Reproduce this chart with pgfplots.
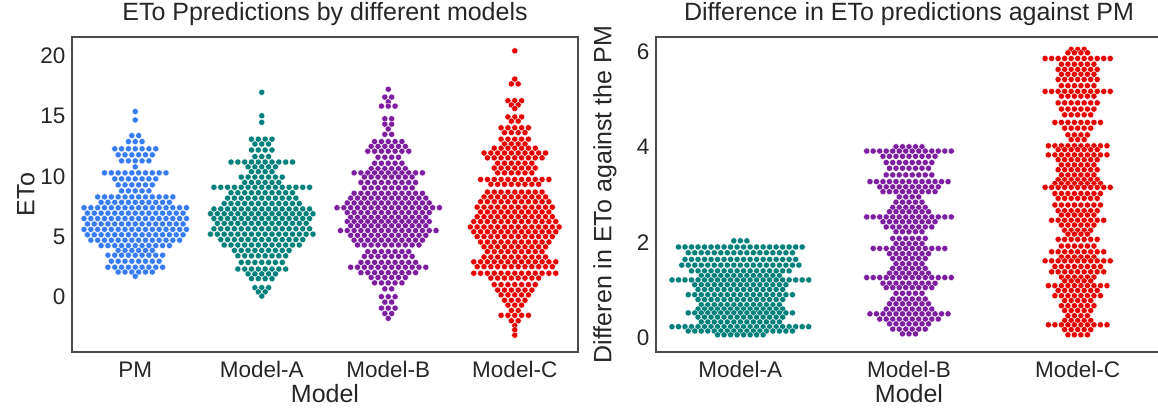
\documentclass[border=0pt]{standalone}
\usepackage{pgfplots}
\pgfplotsset{compat=1.18}
\usepackage{fontspec}
\setmainfont{Liberation Sans}

\definecolor{pmc}{RGB}{56,124,245}
\definecolor{tealc}{RGB}{0,128,122}
\definecolor{purc}{RGB}{125,30,160}
\definecolor{redc}{RGB}{230,0,0}
\definecolor{txt}{RGB}{38,38,38}

\pgfplotsset{
  panel/.style={
    scale only axis, width=506pt, height=315pt, anchor=south west,
    axis line style={draw=black!70, line width=1.1pt},
    major tick length=0pt, tick style={draw=none},
    ticklabel style={font=\fontsize{22.5}{26}\selectfont, text=txt},
    yticklabel style={xshift=-3pt},
    xticklabel style={anchor=base, yshift=-26pt},
    label style={font=\fontsize{25}{29}\selectfont, text=txt},
    xlabel style={at={(0.5,0)}, anchor=base, yshift=-51pt},
    title style={font=\fontsize{25}{29}\selectfont, text=txt, at={(0.5,1)}, anchor=base, yshift=10pt},
    /pgf/number format/assume math mode=true,
  },
  swarm/.style={only marks, mark=*, mark size=3.1pt, color=#1,
    mark options={draw=white, line width=0.35pt, fill=#1}},
}

\begin{document}
\begin{tikzpicture}

% ---------- left: ETo by model (x offsets in half-slot units) ----------
\begin{axis}[panel, at={(72pt,57pt)},
  xmin=-0.5, xmax=3.5, ymin=-4.6, ymax=21.6,
  xtick={0,1,2,3}, xticklabels={PM,Model-A,Model-B,Model-C},
  ytick={0,5,10,15,20},
  xlabel={Model}, ylabel={ETo},
  ylabel style={at={(0,0.5)}, anchor=center, yshift=46pt},
  title={ETo Ppredictions by different models}]

% PM
\addplot[swarm=pmc, x filter/.expression={0.027*x}] coordinates {
(0,15.4)(0,14.7)
(-1,13.4)(1,13.4)
(-2,12.9)(0,12.9)(2,12.9)
(-6,12.3)(-4,12.3)(-2,12.3)(0,12.3)(2,12.3)(4,12.3)(6,12.3)
(-5,11.8)(-3,11.8)(-1,11.8)(1,11.8)(3,11.8)(5,11.8)
(-4,11.3)(-2,11.3)(0,11.3)(2,11.3)(4,11.3)
(0,10.8)
(-9,10.3)(-7,10.3)(-5,10.3)(-3,10.3)(-1,10.3)(1,10.3)(3,10.3)(5,10.3)(7,10.3)(9,10.3)
(-6,9.8)(-4,9.8)(-2,9.8)(0,9.8)(2,9.8)(4,9.8)(6,9.8)
(-5,9.3)(-3,9.3)(-1,9.3)(1,9.3)(3,9.3)(5,9.3)
(-4,8.8)(-2,8.8)(0,8.8)(2,8.8)(4,8.8)
(-11,8.3)(-9,8.3)(-7,8.3)(-5,8.3)(-3,8.3)(-1,8.3)(1,8.3)(3,8.3)(5,8.3)(7,8.3)(9,8.3)(11,8.3)
(-10,7.85)(-8,7.85)(-6,7.85)(-4,7.85)(-2,7.85)(0,7.85)(2,7.85)(4,7.85)(6,7.85)(8,7.85)(10,7.85)
(-15,7.4)(-13,7.4)(-11,7.4)(-9,7.4)(-7,7.4)(-5,7.4)(-3,7.4)(-1,7.4)(1,7.4)(3,7.4)(5,7.4)(7,7.4)(9,7.4)(11,7.4)(13,7.4)(15,7.4)
(-14,6.95)(-12,6.95)(-10,6.95)(-8,6.95)(-6,6.95)(-4,6.95)(-2,6.95)(0,6.95)(2,6.95)(4,6.95)(6,6.95)(8,6.95)(10,6.95)(12,6.95)(14,6.95)
(-15,6.5)(-13,6.5)(-11,6.5)(-9,6.5)(-7,6.5)(-5,6.5)(-3,6.5)(-1,6.5)(1,6.5)(3,6.5)(5,6.5)(7,6.5)(9,6.5)(11,6.5)(13,6.5)(15,6.5)
(-14,6.05)(-12,6.05)(-10,6.05)(-8,6.05)(-6,6.05)(-4,6.05)(-2,6.05)(0,6.05)(2,6.05)(4,6.05)(6,6.05)(8,6.05)(10,6.05)(12,6.05)(14,6.05)
(-15,5.6)(-13,5.6)(-11,5.6)(-9,5.6)(-7,5.6)(-5,5.6)(-3,5.6)(-1,5.6)(1,5.6)(3,5.6)(5,5.6)(7,5.6)(9,5.6)(11,5.6)(13,5.6)(15,5.6)
(-14,5.15)(-12,5.15)(-10,5.15)(-8,5.15)(-6,5.15)(-4,5.15)(-2,5.15)(0,5.15)(2,5.15)(4,5.15)(6,5.15)(8,5.15)(10,5.15)(12,5.15)(14,5.15)
(-13,4.7)(-11,4.7)(-9,4.7)(-7,4.7)(-5,4.7)(-3,4.7)(-1,4.7)(1,4.7)(3,4.7)(5,4.7)(7,4.7)(9,4.7)(11,4.7)(13,4.7)
(-10,4.25)(-8,4.25)(-6,4.25)(-4,4.25)(-2,4.25)(0,4.25)(2,4.25)(4,4.25)(6,4.25)(8,4.25)(10,4.25)
(-5,3.85)(-3,3.85)(-1,3.85)(1,3.85)(3,3.85)(5,3.85)
(-8,3.45)(-6,3.45)(-4,3.45)(-2,3.45)(0,3.45)(2,3.45)(4,3.45)(6,3.45)(8,3.45)
(-7,2.95)(-5,2.95)(-3,2.95)(-1,2.95)(1,2.95)(3,2.95)(5,2.95)(7,2.95)
(-8,2.45)(-6,2.45)(-4,2.45)(-2,2.45)(0,2.45)(2,2.45)(4,2.45)(6,2.45)(8,2.45)
(-5,2.05)(-3,2.05)(-1,2.05)(1,2.05)(3,2.05)(5,2.05)
(0,1.7)
};

% Model-A
\addplot[swarm=tealc, x filter/.expression={0.027*x+1}] coordinates {
(0,17.0)(0,15.05)(0,14.5)
(-3,13.1)(-1,13.1)(1,13.1)(3,13.1)
(-2,12.7)(0,12.7)(2,12.7)
(-3,12.2)(-1,12.2)(1,12.2)(3,12.2)
(-2,11.65)(0,11.65)(2,11.65)
(-9,11.2)(-7,11.2)(-5,11.2)(-3,11.2)(-1,11.2)(1,11.2)(3,11.2)(5,11.2)(7,11.2)(9,11.2)
(-4,10.8)(-2,10.8)(0,10.8)(2,10.8)(4,10.8)
(-3,10.4)(-1,10.4)(1,10.4)(3,10.4)
(-6,9.95)(-4,9.95)(-2,9.95)(0,9.95)(2,9.95)(4,9.95)(6,9.95)
(-5,9.5)(-3,9.5)(-1,9.5)(1,9.5)(3,9.5)(5,9.5)
(-14,9.1)(-12,9.1)(-10,9.1)(-8,9.1)(-6,9.1)(-4,9.1)(-2,9.1)(0,9.1)(2,9.1)(4,9.1)(6,9.1)(8,9.1)(10,9.1)(12,9.1)(14,9.1)
(-9,8.65)(-7,8.65)(-5,8.65)(-3,8.65)(-1,8.65)(1,8.65)(3,8.65)(5,8.65)(7,8.65)(9,8.65)
(-10,8.2)(-8,8.2)(-6,8.2)(-4,8.2)(-2,8.2)(0,8.2)(2,8.2)(4,8.2)(6,8.2)(8,8.2)(10,8.2)
(-11,7.75)(-9,7.75)(-7,7.75)(-5,7.75)(-3,7.75)(-1,7.75)(1,7.75)(3,7.75)(5,7.75)(7,7.75)(9,7.75)(11,7.75)
(-14,7.3)(-12,7.3)(-10,7.3)(-8,7.3)(-6,7.3)(-4,7.3)(-2,7.3)(0,7.3)(2,7.3)(4,7.3)(6,7.3)(8,7.3)(10,7.3)(12,7.3)(14,7.3)
(-15,6.9)(-13,6.9)(-11,6.9)(-9,6.9)(-7,6.9)(-5,6.9)(-3,6.9)(-1,6.9)(1,6.9)(3,6.9)(5,6.9)(7,6.9)(9,6.9)(11,6.9)(13,6.9)(15,6.9)
(-14,6.5)(-12,6.5)(-10,6.5)(-8,6.5)(-6,6.5)(-4,6.5)(-2,6.5)(0,6.5)(2,6.5)(4,6.5)(6,6.5)(8,6.5)(10,6.5)(12,6.5)(14,6.5)
(-13,6.1)(-11,6.1)(-9,6.1)(-7,6.1)(-5,6.1)(-3,6.1)(-1,6.1)(1,6.1)(3,6.1)(5,6.1)(7,6.1)(9,6.1)(11,6.1)(13,6.1)
(-14,5.65)(-12,5.65)(-10,5.65)(-8,5.65)(-6,5.65)(-4,5.65)(-2,5.65)(0,5.65)(2,5.65)(4,5.65)(6,5.65)(8,5.65)(10,5.65)(12,5.65)(14,5.65)
(-15,5.2)(-13,5.2)(-11,5.2)(-9,5.2)(-7,5.2)(-5,5.2)(-3,5.2)(-1,5.2)(1,5.2)(3,5.2)(5,5.2)(7,5.2)(9,5.2)(11,5.2)(13,5.2)(15,5.2)
(-12,4.75)(-10,4.75)(-8,4.75)(-6,4.75)(-4,4.75)(-2,4.75)(0,4.75)(2,4.75)(4,4.75)(6,4.75)(8,4.75)(10,4.75)(12,4.75)
(-11,4.3)(-9,4.3)(-7,4.3)(-5,4.3)(-3,4.3)(-1,4.3)(1,4.3)(3,4.3)(5,4.3)(7,4.3)(9,4.3)(11,4.3)
(-8,3.85)(-6,3.85)(-4,3.85)(-2,3.85)(0,3.85)(2,3.85)(4,3.85)(6,3.85)(8,3.85)
(-7,3.4)(-5,3.4)(-3,3.4)(-1,3.4)(1,3.4)(3,3.4)(5,3.4)(7,3.4)
(-6,2.85)(-4,2.85)(-2,2.85)(0,2.85)(2,2.85)(4,2.85)(6,2.85)
(-7,2.3)(-5,2.3)(-3,2.3)(-1,2.3)(1,2.3)(3,2.3)(5,2.3)(7,2.3)
(-4,1.9)(-2,1.9)(0,1.9)(2,1.9)(4,1.9)
(-3,1.5)(-1,1.5)(1,1.5)(3,1.5)
(-2,0.75)(0,0.75)(2,0.75)
(-1,0.4)(1,0.4)
(0,0.05)
};

% Model-B
\addplot[swarm=purc, x filter/.expression={0.027*x+2}] coordinates {
(0,17.25)
(-1,16.6)(1,16.6)
(0,16.2)
(-2,15.85)(0,15.85)(2,15.85)
(-1,14.8)(1,14.8)
(-1,14.35)(1,14.35)
(0,13.95)
(-1,13.5)(1,13.5)
(-4,12.9)(-2,12.9)(0,12.9)(2,12.9)(4,12.9)
(-5,12.5)(-3,12.5)(-1,12.5)(1,12.5)(3,12.5)(5,12.5)
(-6,12.1)(-4,12.1)(-2,12.1)(0,12.1)(2,12.1)(4,12.1)(6,12.1)
(-3,11.6)(-1,11.6)(1,11.6)(3,11.6)
(-4,11.1)(-2,11.1)(0,11.1)(2,11.1)(4,11.1)
(-5,10.65)(-3,10.65)(-1,10.65)(1,10.65)(3,10.65)(5,10.65)
(-10,10.3)(-8,10.3)(-6,10.3)(-4,10.3)(-2,10.3)(0,10.3)(2,10.3)(4,10.3)(6,10.3)(8,10.3)(10,10.3)
(-7,9.95)(-5,9.95)(-3,9.95)(-1,9.95)(1,9.95)(3,9.95)(5,9.95)(7,9.95)
(-8,9.5)(-6,9.5)(-4,9.5)(-2,9.5)(0,9.5)(2,9.5)(4,9.5)(6,9.5)(8,9.5)
(-7,9.05)(-5,9.05)(-3,9.05)(-1,9.05)(1,9.05)(3,9.05)(5,9.05)(7,9.05)
(-10,8.6)(-8,8.6)(-6,8.6)(-4,8.6)(-2,8.6)(0,8.6)(2,8.6)(4,8.6)(6,8.6)(8,8.6)(10,8.6)
(-11,8.2)(-9,8.2)(-7,8.2)(-5,8.2)(-3,8.2)(-1,8.2)(1,8.2)(3,8.2)(5,8.2)(7,8.2)(9,8.2)(11,8.2)
(-12,7.8)(-10,7.8)(-8,7.8)(-6,7.8)(-4,7.8)(-2,7.8)(0,7.8)(2,7.8)(4,7.8)(6,7.8)(8,7.8)(10,7.8)(12,7.8)
(-15,7.4)(-13,7.4)(-11,7.4)(-9,7.4)(-7,7.4)(-5,7.4)(-3,7.4)(-1,7.4)(1,7.4)(3,7.4)(5,7.4)(7,7.4)(9,7.4)(11,7.4)(13,7.4)(15,7.4)
(-12,7.0)(-10,7.0)(-8,7.0)(-6,7.0)(-4,7.0)(-2,7.0)(0,7.0)(2,7.0)(4,7.0)(6,7.0)(8,7.0)(10,7.0)(12,7.0)
(-11,6.6)(-9,6.6)(-7,6.6)(-5,6.6)(-3,6.6)(-1,6.6)(1,6.6)(3,6.6)(5,6.6)(7,6.6)(9,6.6)(11,6.6)
(-12,6.25)(-10,6.25)(-8,6.25)(-6,6.25)(-4,6.25)(-2,6.25)(0,6.25)(2,6.25)(4,6.25)(6,6.25)(8,6.25)(10,6.25)(12,6.25)
(-11,5.9)(-9,5.9)(-7,5.9)(-5,5.9)(-3,5.9)(-1,5.9)(1,5.9)(3,5.9)(5,5.9)(7,5.9)(9,5.9)(11,5.9)
(-14,5.5)(-12,5.5)(-10,5.5)(-8,5.5)(-6,5.5)(-4,5.5)(-2,5.5)(0,5.5)(2,5.5)(4,5.5)(6,5.5)(8,5.5)(10,5.5)(12,5.5)(14,5.5)
(-11,5.1)(-9,5.1)(-7,5.1)(-5,5.1)(-3,5.1)(-1,5.1)(1,5.1)(3,5.1)(5,5.1)(7,5.1)(9,5.1)(11,5.1)
(-10,4.7)(-8,4.7)(-6,4.7)(-4,4.7)(-2,4.7)(0,4.7)(2,4.7)(4,4.7)(6,4.7)(8,4.7)(10,4.7)
(-9,4.3)(-7,4.3)(-5,4.3)(-3,4.3)(-1,4.3)(1,4.3)(3,4.3)(5,4.3)(7,4.3)(9,4.3)
(-6,3.75)(-4,3.75)(-2,3.75)(0,3.75)(2,3.75)(4,3.75)(6,3.75)
(-7,3.35)(-5,3.35)(-3,3.35)(-1,3.35)(1,3.35)(3,3.35)(5,3.35)(7,3.35)
(-8,2.85)(-6,2.85)(-4,2.85)(-2,2.85)(0,2.85)(2,2.85)(4,2.85)(6,2.85)(8,2.85)
(-11,2.45)(-9,2.45)(-7,2.45)(-5,2.45)(-3,2.45)(-1,2.45)(1,2.45)(3,2.45)(5,2.45)(7,2.45)(9,2.45)(11,2.45)
(-8,2.0)(-6,2.0)(-4,2.0)(-2,2.0)(0,2.0)(2,2.0)(4,2.0)(6,2.0)(8,2.0)
(-5,1.6)(-3,1.6)(-1,1.6)(1,1.6)(3,1.6)(5,1.6)
(-4,1.15)(-2,1.15)(0,1.15)(2,1.15)(4,1.15)
(-1,0.65)(1,0.65)
(-2,0.0)(0,0.0)(2,0.0)
(-1,-0.45)(1,-0.45)
(-2,-0.95)(0,-0.95)(2,-0.95)
(-1,-1.4)(1,-1.4)
(0,-1.8)
};

% Model-C
\addplot[swarm=redc, x filter/.expression={0.027*x+3}] coordinates {
(0,20.45)(0,18.1)
(-1,17.7)(1,17.7)
(-2,16.3)(0,16.3)(2,16.3)
(-1,15.95)(1,15.95)
(0,15.65)
(-2,14.95)(0,14.95)(2,14.95)
(-1,14.6)(1,14.6)
(-4,14.05)(-2,14.05)(0,14.05)(2,14.05)(4,14.05)
(-3,13.65)(-1,13.65)(1,13.65)(3,13.65)
(-4,13.1)(-2,13.1)(0,13.1)(2,13.1)(4,13.1)
(-3,12.7)(-1,12.7)(1,12.7)(3,12.7)
(-6,12.35)(-4,12.35)(-2,12.35)(0,12.35)(2,12.35)(4,12.35)(6,12.35)
(-9,11.95)(-7,11.95)(-5,11.95)(-3,11.95)(-1,11.95)(1,11.95)(3,11.95)(5,11.95)(7,11.95)(9,11.95)
(-8,11.55)(-6,11.55)(-4,11.55)(-2,11.55)(0,11.55)(2,11.55)(4,11.55)(6,11.55)(8,11.55)
(-5,11.1)(-3,11.1)(-1,11.1)(1,11.1)(3,11.1)(5,11.1)
(-6,10.7)(-4,10.7)(-2,10.7)(0,10.7)(2,10.7)(4,10.7)(6,10.7)
(-5,10.3)(-3,10.3)(-1,10.3)(1,10.3)(3,10.3)(5,10.3)
(-10,9.75)(-8,9.75)(-6,9.75)(-4,9.75)(-2,9.75)(0,9.75)(2,9.75)(4,9.75)(6,9.75)(8,9.75)(10,9.75)
(-7,9.35)(-5,9.35)(-3,9.35)(-1,9.35)(1,9.35)(3,9.35)(5,9.35)(7,9.35)
(-8,8.7)(-6,8.7)(-4,8.7)(-2,8.7)(0,8.7)(2,8.7)(4,8.7)(6,8.7)(8,8.7)
(-9,8.3)(-7,8.3)(-5,8.3)(-3,8.3)(-1,8.3)(1,8.3)(3,8.3)(5,8.3)(7,8.3)(9,8.3)
(-10,7.9)(-8,7.9)(-6,7.9)(-4,7.9)(-2,7.9)(0,7.9)(2,7.9)(4,7.9)(6,7.9)(8,7.9)(10,7.9)
(-11,7.45)(-9,7.45)(-7,7.45)(-5,7.45)(-3,7.45)(-1,7.45)(1,7.45)(3,7.45)(5,7.45)(7,7.45)(9,7.45)(11,7.45)
(-10,7.05)(-8,7.05)(-6,7.05)(-4,7.05)(-2,7.05)(0,7.05)(2,7.05)(4,7.05)(6,7.05)(8,7.05)(10,7.05)
(-11,6.65)(-9,6.65)(-7,6.65)(-5,6.65)(-3,6.65)(-1,6.65)(1,6.65)(3,6.65)(5,6.65)(7,6.65)(9,6.65)(11,6.65)
(-12,6.25)(-10,6.25)(-8,6.25)(-6,6.25)(-4,6.25)(-2,6.25)(0,6.25)(2,6.25)(4,6.25)(6,6.25)(8,6.25)(10,6.25)(12,6.25)
(-13,5.8)(-11,5.8)(-9,5.8)(-7,5.8)(-5,5.8)(-3,5.8)(-1,5.8)(1,5.8)(3,5.8)(5,5.8)(7,5.8)(9,5.8)(11,5.8)(13,5.8)
(-12,5.4)(-10,5.4)(-8,5.4)(-6,5.4)(-4,5.4)(-2,5.4)(0,5.4)(2,5.4)(4,5.4)(6,5.4)(8,5.4)(10,5.4)(12,5.4)
(-11,5.0)(-9,5.0)(-7,5.0)(-5,5.0)(-3,5.0)(-1,5.0)(1,5.0)(3,5.0)(5,5.0)(7,5.0)(9,5.0)(11,5.0)
(-10,4.55)(-8,4.55)(-6,4.55)(-4,4.55)(-2,4.55)(0,4.55)(2,4.55)(4,4.55)(6,4.55)(8,4.55)(10,4.55)
(-9,4.15)(-7,4.15)(-5,4.15)(-3,4.15)(-1,4.15)(1,4.15)(3,4.15)(5,4.15)(7,4.15)(9,4.15)
(-8,3.75)(-6,3.75)(-4,3.75)(-2,3.75)(0,3.75)(2,3.75)(4,3.75)(6,3.75)(8,3.75)
(-9,3.3)(-7,3.3)(-5,3.3)(-3,3.3)(-1,3.3)(1,3.3)(3,3.3)(5,3.3)(7,3.3)(9,3.3)
(-12,2.9)(-10,2.9)(-8,2.9)(-6,2.9)(-4,2.9)(-2,2.9)(0,2.9)(2,2.9)(4,2.9)(6,2.9)(8,2.9)(10,2.9)(12,2.9)
(-11,2.5)(-9,2.5)(-7,2.5)(-5,2.5)(-3,2.5)(-1,2.5)(1,2.5)(3,2.5)(5,2.5)(7,2.5)(9,2.5)(11,2.5)
(-12,1.95)(-10,1.95)(-8,1.95)(-6,1.95)(-4,1.95)(-2,1.95)(0,1.95)(2,1.95)(4,1.95)(6,1.95)(8,1.95)(10,1.95)(12,1.95)
(-7,1.55)(-5,1.55)(-3,1.55)(-1,1.55)(1,1.55)(3,1.55)(5,1.55)(7,1.55)
(-6,1.0)(-4,1.0)(-2,1.0)(0,1.0)(2,1.0)(4,1.0)(6,1.0)
(-5,0.55)(-3,0.55)(-1,0.55)(1,0.55)(3,0.55)(5,0.55)
(-4,0.15)(-2,0.15)(0,0.15)(2,0.15)(4,0.15)
(-3,-0.3)(-1,-0.3)(1,-0.3)(3,-0.3)
(-2,-0.7)(0,-0.7)(2,-0.7)
(-1,-1.15)(1,-1.15)
(-4,-1.55)(-2,-1.55)(0,-1.55)(2,-1.55)(4,-1.55)
(-1,-2.0)(1,-2.0)
(0,-2.4)(0,-2.75)(0,-3.2)
};
\end{axis}

% ---------- right: difference against PM ----------
\begin{axis}[panel, at={(656pt,57pt)},
  xmin=-0.5, xmax=2.5, ymin=-0.3, ymax=6.3,
  xtick={0,1,2}, xticklabels={Model-A,Model-B,Model-C},
  ytick={0,2,4,6},
  xlabel={Model}, ylabel={Differen in ETo against the PM},
  ylabel style={at={(0,0.5)}, anchor=center, yshift=51pt},
  title={Difference in ETo predictions against PM}]

% Model-A
\addplot[swarm=tealc, x filter/.expression={0.0193*x}] coordinates {
(-2,2.03)(0,2.03)(2,2.03)
(-19,1.9)(-17,1.9)(-15,1.9)(-13,1.9)(-11,1.9)(-9,1.9)(-7,1.9)(-5,1.9)(-3,1.9)(-1,1.9)(1,1.9)(3,1.9)(5,1.9)(7,1.9)(9,1.9)(11,1.9)(13,1.9)(15,1.9)(17,1.9)(19,1.9)
(-16,1.78)(-14,1.78)(-12,1.78)(-10,1.78)(-8,1.78)(-6,1.78)(-4,1.78)(-2,1.78)(0,1.78)(2,1.78)(4,1.78)(6,1.78)(8,1.78)(10,1.78)(12,1.78)(14,1.78)(16,1.78)
(-17,1.64)(-15,1.64)(-13,1.64)(-11,1.64)(-9,1.64)(-7,1.64)(-5,1.64)(-3,1.64)(-1,1.64)(1,1.64)(3,1.64)(5,1.64)(7,1.64)(9,1.64)(11,1.64)(13,1.64)(15,1.64)(17,1.64)
(-18,1.52)(-16,1.52)(-14,1.52)(-12,1.52)(-10,1.52)(-8,1.52)(-6,1.52)(-4,1.52)(-2,1.52)(0,1.52)(2,1.52)(4,1.52)(6,1.52)(8,1.52)(10,1.52)(12,1.52)(14,1.52)(16,1.52)(18,1.52)
(-15,1.4)(-13,1.4)(-11,1.4)(-9,1.4)(-7,1.4)(-5,1.4)(-3,1.4)(-1,1.4)(1,1.4)(3,1.4)(5,1.4)(7,1.4)(9,1.4)(11,1.4)(13,1.4)(15,1.4)
(-12,1.3)(-10,1.3)(-8,1.3)(-6,1.3)(-4,1.3)(-2,1.3)(0,1.3)(2,1.3)(4,1.3)(6,1.3)(8,1.3)(10,1.3)(12,1.3)
(-21,1.21)(-19,1.21)(-17,1.21)(-15,1.21)(-13,1.21)(-11,1.21)(-9,1.21)(-7,1.21)(-5,1.21)(-3,1.21)(-1,1.21)(1,1.21)(3,1.21)(5,1.21)(7,1.21)(9,1.21)(11,1.21)(13,1.21)(15,1.21)(17,1.21)(19,1.21)(21,1.21)
(-14,1.11)(-12,1.11)(-10,1.11)(-8,1.11)(-6,1.11)(-4,1.11)(-2,1.11)(0,1.11)(2,1.11)(4,1.11)(6,1.11)(8,1.11)(10,1.11)(12,1.11)(14,1.11)
(-13,1.01)(-11,1.01)(-9,1.01)(-7,1.01)(-5,1.01)(-3,1.01)(-1,1.01)(1,1.01)(3,1.01)(5,1.01)(7,1.01)(9,1.01)(11,1.01)(13,1.01)
(-16,0.9)(-14,0.9)(-12,0.9)(-10,0.9)(-8,0.9)(-6,0.9)(-4,0.9)(-2,0.9)(0,0.9)(2,0.9)(4,0.9)(6,0.9)(8,0.9)(10,0.9)(12,0.9)(14,0.9)(16,0.9)
(-13,0.8)(-11,0.8)(-9,0.8)(-7,0.8)(-5,0.8)(-3,0.8)(-1,0.8)(1,0.8)(3,0.8)(5,0.8)(7,0.8)(9,0.8)(11,0.8)(13,0.8)
(-12,0.69)(-10,0.69)(-8,0.69)(-6,0.69)(-4,0.69)(-2,0.69)(0,0.69)(2,0.69)(4,0.69)(6,0.69)(8,0.69)(10,0.69)(12,0.69)
(-13,0.6)(-11,0.6)(-9,0.6)(-7,0.6)(-5,0.6)(-3,0.6)(-1,0.6)(1,0.6)(3,0.6)(5,0.6)(7,0.6)(9,0.6)(11,0.6)(13,0.6)
(-16,0.52)(-14,0.52)(-12,0.52)(-10,0.52)(-8,0.52)(-6,0.52)(-4,0.52)(-2,0.52)(0,0.52)(2,0.52)(4,0.52)(6,0.52)(8,0.52)(10,0.52)(12,0.52)(14,0.52)(16,0.52)
(-13,0.43)(-11,0.43)(-9,0.43)(-7,0.43)(-5,0.43)(-3,0.43)(-1,0.43)(1,0.43)(3,0.43)(5,0.43)(7,0.43)(9,0.43)(11,0.43)(13,0.43)
(-12,0.33)(-10,0.33)(-8,0.33)(-6,0.33)(-4,0.33)(-2,0.33)(0,0.33)(2,0.33)(4,0.33)(6,0.33)(8,0.33)(10,0.33)(12,0.33)
(-21,0.23)(-19,0.23)(-17,0.23)(-15,0.23)(-13,0.23)(-11,0.23)(-9,0.23)(-7,0.23)(-5,0.23)(-3,0.23)(-1,0.23)(1,0.23)(3,0.23)(5,0.23)(7,0.23)(9,0.23)(11,0.23)(13,0.23)(15,0.23)(17,0.23)(19,0.23)(21,0.23)
(-16,0.14)(-14,0.14)(-12,0.14)(-10,0.14)(-8,0.14)(-6,0.14)(-4,0.14)(-2,0.14)(0,0.14)(2,0.14)(4,0.14)(6,0.14)(8,0.14)(10,0.14)(12,0.14)(14,0.14)(16,0.14)
(-7,0.06)(-5,0.06)(-3,0.06)(-1,0.06)(1,0.06)(3,0.06)(5,0.06)(7,0.06)
};

% Model-B
\addplot[swarm=purc, x filter/.expression={0.0193*x+1}] coordinates {
(-4,4.0)(-2,4.0)(0,4.0)(2,4.0)(4,4.0)
(-13,3.91)(-11,3.91)(-9,3.91)(-7,3.91)(-5,3.91)(-3,3.91)(-1,3.91)(1,3.91)(3,3.91)(5,3.91)(7,3.91)(9,3.91)(11,3.91)(13,3.91)
(-8,3.8)(-6,3.8)(-4,3.8)(-2,3.8)(0,3.8)(2,3.8)(4,3.8)(6,3.8)(8,3.8)
(-7,3.67)(-5,3.67)(-3,3.67)(-1,3.67)(1,3.67)(3,3.67)(5,3.67)(7,3.67)
(-6,3.55)(-4,3.55)(-2,3.55)(0,3.55)(2,3.55)(4,3.55)(6,3.55)
(-7,3.41)(-5,3.41)(-3,3.41)(-1,3.41)(1,3.41)(3,3.41)(5,3.41)(7,3.41)
(-12,3.27)(-10,3.27)(-8,3.27)(-6,3.27)(-4,3.27)(-2,3.27)(0,3.27)(2,3.27)(4,3.27)(6,3.27)(8,3.27)(10,3.27)(12,3.27)
(-9,3.16)(-7,3.16)(-5,3.16)(-3,3.16)(-1,3.16)(1,3.16)(3,3.16)(5,3.16)(7,3.16)(9,3.16)
(-8,3.06)(-6,3.06)(-4,3.06)(-2,3.06)(0,3.06)(2,3.06)(4,3.06)(6,3.06)(8,3.06)
(-3,2.95)(-1,2.95)(1,2.95)(3,2.95)
(-4,2.84)(-2,2.84)(0,2.84)(2,2.84)(4,2.84)
(-5,2.73)(-3,2.73)(-1,2.73)(1,2.73)(3,2.73)(5,2.73)
(-6,2.64)(-4,2.64)(-2,2.64)(0,2.64)(2,2.64)(4,2.64)(6,2.64)
(-13,2.53)(-11,2.53)(-9,2.53)(-7,2.53)(-5,2.53)(-3,2.53)(-1,2.53)(1,2.53)(3,2.53)(5,2.53)(7,2.53)(9,2.53)(11,2.53)(13,2.53)
(-8,2.43)(-6,2.43)(-4,2.43)(-2,2.43)(0,2.43)(2,2.43)(4,2.43)(6,2.43)(8,2.43)
(-7,2.32)(-5,2.32)(-3,2.32)(-1,2.32)(1,2.32)(3,2.32)(5,2.32)(7,2.32)
(-4,2.22)(-2,2.22)(0,2.22)(2,2.22)(4,2.22)
(-5,2.08)(-3,2.08)(-1,2.08)(1,2.08)(3,2.08)(5,2.08)
(-4,1.97)(-2,1.97)(0,1.97)(2,1.97)(4,1.97)
(-11,1.87)(-9,1.87)(-7,1.87)(-5,1.87)(-3,1.87)(-1,1.87)(1,1.87)(3,1.87)(5,1.87)(7,1.87)(9,1.87)(11,1.87)
(-6,1.76)(-4,1.76)(-2,1.76)(0,1.76)(2,1.76)(4,1.76)(6,1.76)
(-5,1.66)(-3,1.66)(-1,1.66)(1,1.66)(3,1.66)(5,1.66)
(-4,1.55)(-2,1.55)(0,1.55)(2,1.55)(4,1.55)
(-5,1.45)(-3,1.45)(-1,1.45)(1,1.45)(3,1.45)(5,1.45)
(-6,1.35)(-4,1.35)(-2,1.35)(0,1.35)(2,1.35)(4,1.35)(6,1.35)
(-13,1.26)(-11,1.26)(-9,1.26)(-7,1.26)(-5,1.26)(-3,1.26)(-1,1.26)(1,1.26)(3,1.26)(5,1.26)(7,1.26)(9,1.26)(11,1.26)(13,1.26)
(-8,1.14)(-6,1.14)(-4,1.14)(-2,1.14)(0,1.14)(2,1.14)(4,1.14)(6,1.14)(8,1.14)
(-7,1.05)(-5,1.05)(-3,1.05)(-1,1.05)(1,1.05)(3,1.05)(5,1.05)(7,1.05)
(-4,0.93)(-2,0.93)(0,0.93)(2,0.93)(4,0.93)
(-5,0.81)(-3,0.81)(-1,0.81)(1,0.81)(3,0.81)(5,0.81)
(-6,0.71)(-4,0.71)(-2,0.71)(0,0.71)(2,0.71)(4,0.71)(6,0.71)
(-7,0.6)(-5,0.6)(-3,0.6)(-1,0.6)(1,0.6)(3,0.6)(5,0.6)(7,0.6)
(-12,0.5)(-10,0.5)(-8,0.5)(-6,0.5)(-4,0.5)(-2,0.5)(0,0.5)(2,0.5)(4,0.5)(6,0.5)(8,0.5)(10,0.5)(12,0.5)
(-9,0.39)(-7,0.39)(-5,0.39)(-3,0.39)(-1,0.39)(1,0.39)(3,0.39)(5,0.39)(7,0.39)(9,0.39)
(-6,0.29)(-4,0.29)(-2,0.29)(0,0.29)(2,0.29)(4,0.29)(6,0.29)
(-5,0.18)(-3,0.18)(-1,0.18)(1,0.18)(3,0.18)(5,0.18)
(-2,0.08)(0,0.08)(2,0.08)
};

% Model-C
\addplot[swarm=redc, x filter/.expression={0.0193*x+2}] coordinates {
(-2,6.04)(0,6.04)(2,6.04)
(-3,5.97)(-1,5.97)(1,5.97)(3,5.97)
(-10,5.85)(-8,5.85)(-6,5.85)(-4,5.85)(-2,5.85)(0,5.85)(2,5.85)(4,5.85)(6,5.85)(8,5.85)(10,5.85)
(-5,5.73)(-3,5.73)(-1,5.73)(1,5.73)(3,5.73)(5,5.73)
(-6,5.62)(-4,5.62)(-2,5.62)(0,5.62)(2,5.62)(4,5.62)(6,5.62)
(-5,5.52)(-3,5.52)(-1,5.52)(1,5.52)(3,5.52)(5,5.52)
(-6,5.41)(-4,5.41)(-2,5.41)(0,5.41)(2,5.41)(4,5.41)(6,5.41)
(-5,5.28)(-3,5.28)(-1,5.28)(1,5.28)(3,5.28)(5,5.28)
(-10,5.16)(-8,5.16)(-6,5.16)(-4,5.16)(-2,5.16)(0,5.16)(2,5.16)(4,5.16)(6,5.16)(8,5.16)(10,5.16)
(-5,5.06)(-3,5.06)(-1,5.06)(1,5.06)(3,5.06)(5,5.06)
(-6,4.92)(-4,4.92)(-2,4.92)(0,4.92)(2,4.92)(4,4.92)(6,4.92)
(-5,4.79)(-3,4.79)(-1,4.79)(1,4.79)(3,4.79)(5,4.79)
(-4,4.67)(-2,4.67)(0,4.67)(2,4.67)(4,4.67)
(-7,4.51)(-5,4.51)(-3,4.51)(-1,4.51)(1,4.51)(3,4.51)(5,4.51)(7,4.51)
(-4,4.39)(-2,4.39)(0,4.39)(2,4.39)(4,4.39)
(-3,4.25)(-1,4.25)(1,4.25)(3,4.25)
(-2,4.15)(0,4.15)(2,4.15)
(-9,4.02)(-7,4.02)(-5,4.02)(-3,4.02)(-1,4.02)(1,4.02)(3,4.02)(5,4.02)(7,4.02)(9,4.02)
(-6,3.94)(-4,3.94)(-2,3.94)(0,3.94)(2,3.94)(4,3.94)(6,3.94)
(-9,3.83)(-7,3.83)(-5,3.83)(-3,3.83)(-1,3.83)(1,3.83)(3,3.83)(5,3.83)(7,3.83)(9,3.83)
(-6,3.73)(-4,3.73)(-2,3.73)(0,3.73)(2,3.73)(4,3.73)(6,3.73)
(-5,3.62)(-3,3.62)(-1,3.62)(1,3.62)(3,3.62)(5,3.62)
(-6,3.52)(-4,3.52)(-2,3.52)(0,3.52)(2,3.52)(4,3.52)(6,3.52)
(-5,3.41)(-3,3.41)(-1,3.41)(1,3.41)(3,3.41)(5,3.41)
(-6,3.31)(-4,3.31)(-2,3.31)(0,3.31)(2,3.31)(4,3.31)(6,3.31)
(-7,3.23)(-5,3.23)(-3,3.23)(-1,3.23)(1,3.23)(3,3.23)(5,3.23)(7,3.23)
(-10,3.15)(-8,3.15)(-6,3.15)(-4,3.15)(-2,3.15)(0,3.15)(2,3.15)(4,3.15)(6,3.15)(8,3.15)(10,3.15)
(-7,3.02)(-5,3.02)(-3,3.02)(-1,3.02)(1,3.02)(3,3.02)(5,3.02)(7,3.02)
(-6,2.92)(-4,2.92)(-2,2.92)(0,2.92)(2,2.92)(4,2.92)(6,2.92)
(-7,2.78)(-5,2.78)(-3,2.78)(-1,2.78)(1,2.78)(3,2.78)(5,2.78)(7,2.78)
(-6,2.66)(-4,2.66)(-2,2.66)(0,2.66)(2,2.66)(4,2.66)(6,2.66)
(-5,2.57)(-3,2.57)(-1,2.57)(1,2.57)(3,2.57)(5,2.57)
(-8,2.46)(-6,2.46)(-4,2.46)(-2,2.46)(0,2.46)(2,2.46)(4,2.46)(6,2.46)(8,2.46)
(-5,2.36)(-3,2.36)(-1,2.36)(1,2.36)(3,2.36)(5,2.36)
(-4,2.25)(-2,2.25)(0,2.25)(2,2.25)(4,2.25)
(-3,2.17)(-1,2.17)(1,2.17)(3,2.17)
(-6,2.06)(-4,2.06)(-2,2.06)(0,2.06)(2,2.06)(4,2.06)(6,2.06)
(-5,1.92)(-3,1.92)(-1,1.92)(1,1.92)(3,1.92)(5,1.92)
(-8,1.8)(-6,1.8)(-4,1.8)(-2,1.8)(0,1.8)(2,1.8)(4,1.8)(6,1.8)(8,1.8)
(-5,1.69)(-3,1.69)(-1,1.69)(1,1.69)(3,1.69)(5,1.69)
(-10,1.61)(-8,1.61)(-6,1.61)(-4,1.61)(-2,1.61)(0,1.61)(2,1.61)(4,1.61)(6,1.61)(8,1.61)(10,1.61)
(-7,1.49)(-5,1.49)(-3,1.49)(-1,1.49)(1,1.49)(3,1.49)(5,1.49)(7,1.49)
(-8,1.38)(-6,1.38)(-4,1.38)(-2,1.38)(0,1.38)(2,1.38)(4,1.38)(6,1.38)(8,1.38)
(-5,1.27)(-3,1.27)(-1,1.27)(1,1.27)(3,1.27)(5,1.27)
(-4,1.19)(-2,1.19)(0,1.19)(2,1.19)(4,1.19)
(-9,1.09)(-7,1.09)(-5,1.09)(-3,1.09)(-1,1.09)(1,1.09)(3,1.09)(5,1.09)(7,1.09)(9,1.09)
(-6,0.99)(-4,0.99)(-2,0.99)(0,0.99)(2,0.99)(4,0.99)(6,0.99)
(-7,0.88)(-5,0.88)(-3,0.88)(-1,0.88)(1,0.88)(3,0.88)(5,0.88)(7,0.88)
(-4,0.78)(-2,0.78)(0,0.78)(2,0.78)(4,0.78)
(-5,0.67)(-3,0.67)(-1,0.67)(1,0.67)(3,0.67)(5,0.67)
(-4,0.57)(-2,0.57)(0,0.57)(2,0.57)(4,0.57)
(-3,0.46)(-1,0.46)(1,0.46)(3,0.46)
(-4,0.36)(-2,0.36)(0,0.36)(2,0.36)(4,0.36)
(-9,0.27)(-7,0.27)(-5,0.27)(-3,0.27)(-1,0.27)(1,0.27)(3,0.27)(5,0.27)(7,0.27)(9,0.27)
(-4,0.17)(-2,0.17)(0,0.17)(2,0.17)(4,0.17)
(-3,0.06)(-1,0.06)(1,0.06)(3,0.06)
};
\end{axis}

\pgfresetboundingbox
\useasboundingbox (0,0) rectangle (1158pt,409pt);
\end{tikzpicture}
\end{document}
